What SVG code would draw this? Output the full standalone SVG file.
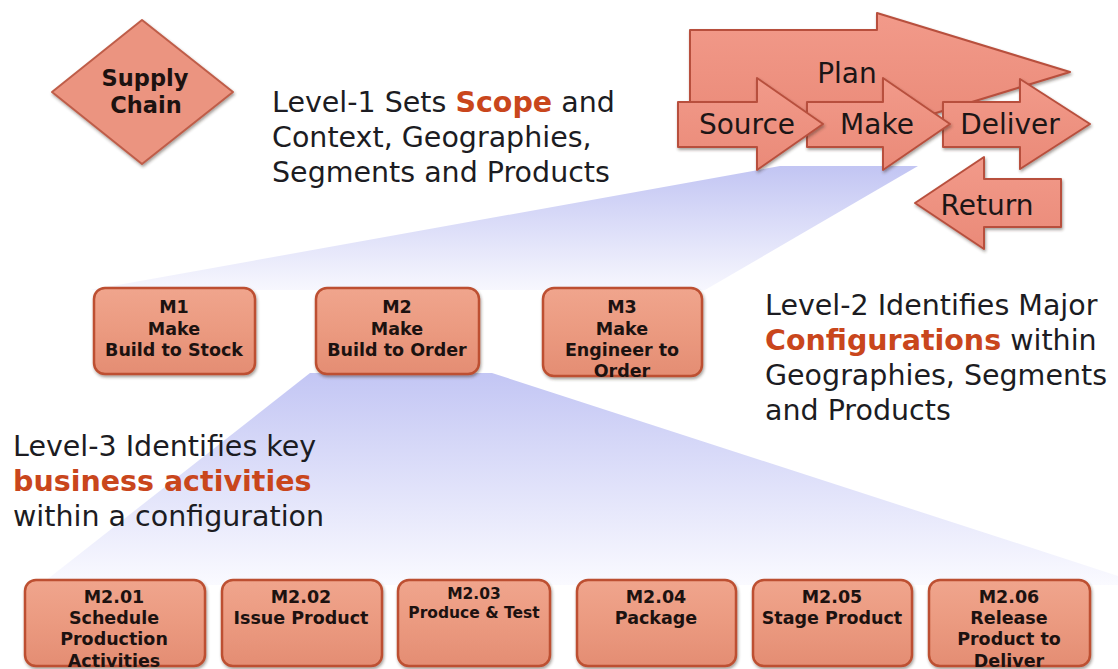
<svg xmlns="http://www.w3.org/2000/svg" width="1118" height="669" viewBox="0 0 1118 669">
<defs>
<linearGradient id="wedgeA" gradientUnits="userSpaceOnUse" x1="0" y1="166" x2="0" y2="292">
<stop offset="0" stop-color="#c2c5f3"/><stop offset="1" stop-color="#f8f8fe"/>
</linearGradient>
<linearGradient id="wedgeB" gradientUnits="userSpaceOnUse" x1="0" y1="373" x2="0" y2="585">
<stop offset="0" stop-color="#c3c6f4"/><stop offset="1" stop-color="#fafaff"/>
</linearGradient>
<linearGradient id="boxFill" x1="0" y1="0" x2="0" y2="1">
<stop offset="0" stop-color="#f0a58d"/><stop offset="0.5" stop-color="#eb9a80"/><stop offset="1" stop-color="#e48d73"/>
</linearGradient>
<linearGradient id="arrowFill" x1="0" y1="0" x2="0" y2="1">
<stop offset="0" stop-color="#f29a8a"/><stop offset="1" stop-color="#ea8a78"/>
</linearGradient>
<filter id="shadow" x="-10%" y="-10%" width="120%" height="130%">
<feDropShadow dx="1" dy="2" stdDeviation="1.5" flood-color="#3a2a20" flood-opacity="0.45"/>
</filter>
</defs>
<style>
.box{fill:url(#boxFill);stroke:#bd5030;stroke-width:2.5;filter:url(#shadow)}
.arrow{fill:url(#arrowFill);stroke:#b8503e;stroke-width:2;stroke-linejoin:round;filter:url(#shadow)}
.bt{font-family:"DejaVu Sans","Liberation Sans",sans-serif;font-weight:bold;font-size:17.5px;fill:#1c1210;text-anchor:middle}
.bts{font-size:15.5px}
.at{font-family:"DejaVu Sans","Liberation Sans",sans-serif;font-size:28px;fill:#1c1616;text-anchor:middle}
.lt{font-family:"DejaVu Sans","Liberation Sans",sans-serif;font-size:28.5px;fill:#1c1c22}
.hl{font-weight:bold;fill:#c9461c}
</style>
<rect width="1118" height="669" fill="#ffffff"/>

<g id="connectors">
<polygon points="780,166 918,166 705,290 90,290" fill="url(#wedgeA)"/>
<polygon points="310,373 492,373 1146,585 40,585" fill="url(#wedgeB)"/>
</g>

<g id="supply-chain">
<polygon points="142,20 233,92 142,164 52,92" fill="#eb9480" stroke="#bf5d48" stroke-width="2" stroke-linejoin="round" filter="url(#shadow)"/>
<text class="bt" style="font-size:22.5px" x="145" y="86">Supply</text>
<text class="bt" style="font-size:22.5px" x="146" y="112.5">Chain</text>
</g>

<g id="level1-text">
<text class="lt" x="272" y="112">Level-1 Sets <tspan class="hl">Scope</tspan> and</text>
<text class="lt" x="272" y="147">Context, Geographies,</text>
<text class="lt" x="272" y="182">Segments and Products</text>
</g>

<g id="plan">
<polygon class="arrow" points="690,30 877,30 877,13 1070,72 877,131 877,114 690,114"/>
<text class="at" x="847" y="83">Plan</text>
</g>
<g id="deliver">
<polygon class="arrow" points="943,102 1020,102 1020,79 1090,124 1020,169 1020,147 943,147"/>
<text class="at" x="1010" y="134">Deliver</text>
</g>
<g id="make">
<polygon class="arrow" points="807,102 883,102 883,78 950,124 883,170 883,147 807,147"/>
<text class="at" x="877" y="134">Make</text>
</g>
<g id="source">
<polygon class="arrow" points="678,102 757,102 757,78 823,124 757,170 757,147 678,147"/>
<text class="at" x="747" y="134">Source</text>
</g>
<g id="return">
<polygon class="arrow" points="915,203 984,157 984,179 1061,179 1061,227 984,227 984,249"/>
<text class="at" x="987" y="215">Return</text>
</g>

<g id="m1">
<rect class="box" x="94" y="288" width="161" height="86" rx="11"/>
<text class="bt" x="174" y="313">M1</text>
<text class="bt" x="174" y="335">Make</text>
<text class="bt" x="174" y="356">Build to Stock</text>
</g>
<g id="m2">
<rect class="box" x="316" y="288" width="163" height="86" rx="11"/>
<text class="bt" x="397" y="313">M2</text>
<text class="bt" x="397" y="335">Make</text>
<text class="bt" x="397" y="356">Build to Order</text>
</g>
<g id="m3">
<rect class="box" x="543" y="288" width="159" height="88" rx="11"/>
<text class="bt" x="622" y="313">M3</text>
<text class="bt" x="622" y="335">Make</text>
<text class="bt" x="622" y="356">Engineer to</text>
<text class="bt" x="622" y="377">Order</text>
</g>

<g id="level2-text">
<text class="lt" x="765" y="315">Level-2 Identifies Major</text>
<text class="lt" x="765" y="350"><tspan class="hl">Configurations</tspan> within</text>
<text class="lt" x="765" y="385">Geographies, Segments</text>
<text class="lt" x="765" y="420">and Products</text>
</g>

<g id="level3-text">
<text class="lt" x="13" y="456">Level-3 Identifies key</text>
<text class="lt hl" x="13" y="491">business activities</text>
<text class="lt" x="13" y="526">within a configuration</text>
</g>

<g id="m2-01">
<rect class="box" x="25" y="580" width="180" height="86" rx="11"/>
<text class="bt" x="114" y="603">M2.01</text>
<text class="bt" x="114" y="624">Schedule</text>
<text class="bt" x="114" y="645">Production</text>
<text class="bt" x="114" y="667">Activities</text>
</g>
<g id="m2-02">
<rect class="box" x="222" y="580" width="160" height="86" rx="11"/>
<text class="bt" x="301" y="603">M2.02</text>
<text class="bt" x="301" y="624">Issue Product</text>
</g>
<g id="m2-03">
<rect class="box" x="398" y="580" width="152" height="86" rx="11"/>
<text class="bt bts" x="474" y="599">M2.03</text>
<text class="bt bts" x="474" y="618">Produce &amp; Test</text>
</g>
<g id="m2-04">
<rect class="box" x="577" y="580" width="159" height="86" rx="11"/>
<text class="bt" x="656" y="603">M2.04</text>
<text class="bt" x="656" y="624">Package</text>
</g>
<g id="m2-05">
<rect class="box" x="753" y="580" width="159" height="86" rx="11"/>
<text class="bt" x="832" y="603">M2.05</text>
<text class="bt" x="832" y="624">Stage Product</text>
</g>
<g id="m2-06">
<rect class="box" x="929" y="580" width="161" height="86" rx="11"/>
<text class="bt" x="1009" y="603">M2.06</text>
<text class="bt" x="1009" y="624">Release</text>
<text class="bt" x="1009" y="645">Product to</text>
<text class="bt" x="1009" y="667">Deliver</text>
</g>
</svg>
